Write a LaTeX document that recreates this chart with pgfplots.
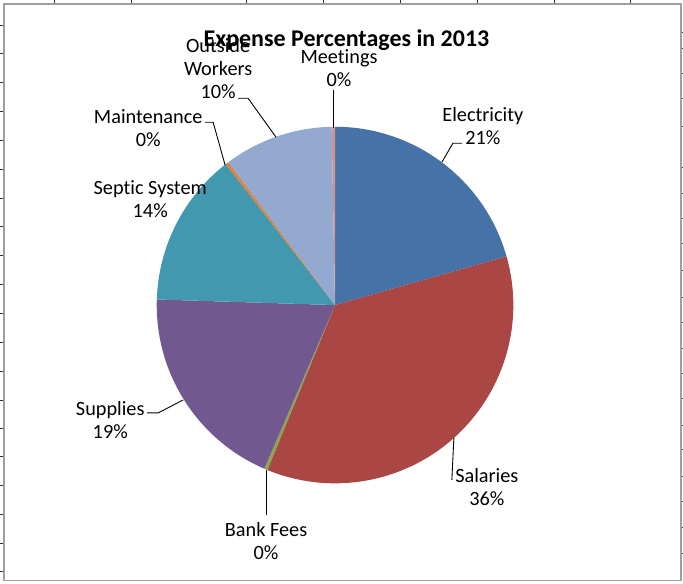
\documentclass[border=0pt]{standalone}
\usepackage{pgfplots}
\pgfplotsset{compat=1.18}
\usepackage{fontspec}
\setmainfont[Ligatures=NoCommon]{Carlito}
\definecolor{cElec}{HTML}{4572A7}
\definecolor{cSal}{HTML}{AA4643}
\definecolor{cBank}{HTML}{89A54E}
\definecolor{cSup}{HTML}{71588F}
\definecolor{cSep}{HTML}{4198AF}
\definecolor{cMaint}{HTML}{DB843D}
\definecolor{cOW}{HTML}{93A9CF}
\definecolor{cMeet}{HTML}{D19392}
\begin{document}
\begin{tikzpicture}
\begin{axis}[
  scale only axis, width=683pt, height=584pt,
  xmin=0, xmax=683, ymin=0, ymax=584, y dir=reverse,
  hide axis, clip=false,
]
\path (axis cs:0,0) rectangle (axis cs:683,584);
% spreadsheet grid stubs
\foreach \gx in {54,131,246,323,400,478,555,631}{
  \edef\temp{\noexpand\draw[black!80, line width=0.8pt] (axis cs:\gx,0) -- (axis cs:\gx,3);}\temp}
\foreach \gy in {25,53,82,111,140,169,198,226,255,284,313,342,371,400,428,457,486,515,544,572}{
  \edef\temp{\noexpand\draw[black!80, line width=0.8pt] (axis cs:0,\gy) -- (axis cs:3,\gy);}\temp}
\foreach \gy in {32,48,73,98,126,167,193,218,243,270,297,322,348,373,398,425,450,477,502,528,554}{
  \edef\temp{\noexpand\draw[black!80, line width=0.8pt] (axis cs:681,\gy) -- (axis cs:683,\gy);}\temp}
\draw[white, fill=white] (axis cs:4,4) rectangle (axis cs:681,581);
\draw[gray!75, line width=1.4pt] (axis cs:3.5,3.5) rectangle (axis cs:681.5,581);
% pie slices: value (percent) / colour, clockwise from 12 o'clock
\gdef\cum{0}
\foreach \v/\col in {20.6/cElec, 35.6/cSal, 0.3/cBank, 19.0/cSup, 14.0/cSep, 0.3/cMaint, 9.9/cOW, 0.3/cMeet}{
  \pgfmathsetmacro\a{90-3.6*\cum}
  \pgfmathsetmacro\b{90-3.6*(\cum+\v)}
  \edef\temp{\noexpand\fill[\col] (axis cs:335,305) -- ++(\a:178.5pt) arc[start angle=\a, end angle=\b, radius=178.5pt] -- cycle;}
  \temp
  \pgfmathsetmacro\newcum{\cum+\v}
  \global\let\cum\newcum
}
% leader lines
\draw[black, line width=0.9pt] (axis cs:462,143) -- (axis cs:453,143) -- (axis cs:442,162);
\draw[black, line width=0.9pt] (axis cs:147,413) -- (axis cs:158,413) -- (axis cs:183,400);
\draw[black, line width=0.9pt] (axis cs:452,480) -- (axis cs:454,438);
\draw[black, line width=0.9pt] (axis cs:266,515) -- (axis cs:266,470);
\draw[black, line width=0.9pt] (axis cs:205,122) -- (axis cs:213,122) -- (axis cs:225,165);
\draw[black, line width=0.9pt] (axis cs:333,90) -- (axis cs:333,128);
\draw[black, line width=0.9pt] (axis cs:238,98) -- (axis cs:248,98) -- (axis cs:276,137);
% labels
\tikzset{lab/.style={align=center, font=\fontsize{20.3}{23}\selectfont, inner sep=0pt}}
\node[lab] at (axis cs:218,68) {Outside\\Workers\\10\%};
\node[lab] at (axis cs:339,67.5) {Meetings\\0\%};
\node[lab] at (axis cs:483,125.5) {Electricity\\21\%};
\node[lab] at (axis cs:148,127.5) {Maintenance\\0\%};
\node[lab] at (axis cs:150,198.5) {Septic System\\14\%};
\node[lab] at (axis cs:110,420.5) {Supplies\\19\%};
\node[lab] at (axis cs:487,487.5) {Salaries\\36\%};
\node[lab] at (axis cs:266,541) {Bank Fees\\0\%};
\node[font=\fontsize{24}{28}\selectfont\bfseries, inner sep=0pt] at (axis cs:346.5,40) {Expense Percentages in 2013};
\end{axis}
\end{tikzpicture}
\end{document}
